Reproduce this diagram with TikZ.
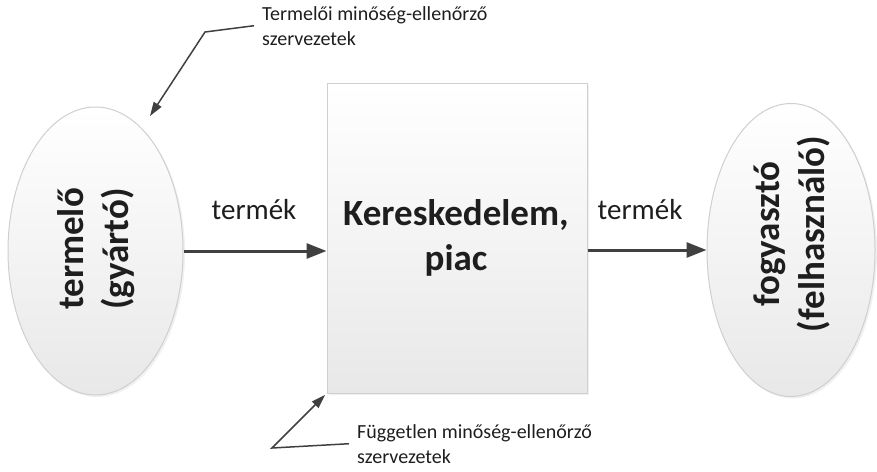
\documentclass[tikz,border=0pt]{standalone}
\usepackage{fontspec}
\setmainfont{Carlito}
\usetikzlibrary{arrows.meta,shapes.geometric,shadows}
\definecolor{txt}{HTML}{1E1E1E}
\definecolor{arrc}{HTML}{404040}
\definecolor{brd}{HTML}{CFCFCF}
\tikzset{
  shapebase/.style={draw=brd, line width=1pt, top color=white, bottom color=black!9,
    drop shadow={opacity=0.12, shadow xshift=2pt, shadow yshift=-2pt}},
  ell/.style={shapebase, ellipse, inner sep=0pt},
  boxnode/.style={shapebase, rectangle, inner sep=0pt},
  bigtxt/.style={font=\fontsize{37}{45}\selectfont\bfseries, text=txt, align=center, inner sep=0pt},
  flowlbl/.style={font=\fontsize{29}{34}\selectfont, text=txt, inner sep=0pt},
  calltxt/.style={font=\fontsize{20}{25}\selectfont, text=txt, align=left, inner sep=0pt},
  mainarr/.style={draw=arrc, line width=3pt, -{Triangle[length=20pt,width=15pt]}},
  callarr/.style={draw=arrc, line width=1.5pt, -{Triangle[length=14pt,width=9pt]}}
}
\begin{document}
\begin{tikzpicture}[x=1pt,y=-1pt]
\useasboundingbox (0,0) rectangle (877,471);
% shapes
\node[ell, minimum width=175pt, minimum height=288pt] (lel) at (95.5,251) {};
\node[ell, minimum width=168pt, minimum height=293pt] (rel) at (791,250) {};
\node[boxnode, minimum width=260pt, minimum height=310pt] (box) at (457,238) {};
% texts in shapes
\node[bigtxt, rotate=90] (lelt) at (96,249) {termelő\\(gyártó)};
\node[bigtxt, rotate=90] (relt) at (792,234) {fogyasztó\\(felhasználó)};
\node[bigtxt] (boxt) at (456,238) {Kereskedelem,\\piac};
% main flow
\draw[mainarr] (lel.east) -- (box.west |- lel.east);
\draw[mainarr] (box.east |- rel.west) -- (rel.west);
\node[flowlbl] (l1) at (254,210) {termék};
\node[flowlbl] (l2) at (640,210) {termék};
% callouts
\node[calltxt, anchor=north west] (ct) at (262,6) {Termelői minőség-ellenőrző\\szervezetek};
\coordinate (ctk) at (205,32);
\coordinate (tipA) at (150,116);
\draw[callarr] ([xshift=-8pt]ct.west) -- (ctk) -- (tipA);
\node[calltxt, anchor=north west] (cb) at (357,424) {Független minőség-ellenőrző\\szervezetek};
\coordinate (cbk) at (272,448);
\draw[callarr, shorten >=2pt] ([xshift=-8pt]cb.west) -- (cbk) -- (box.south west);
\end{tikzpicture}
\end{document}
